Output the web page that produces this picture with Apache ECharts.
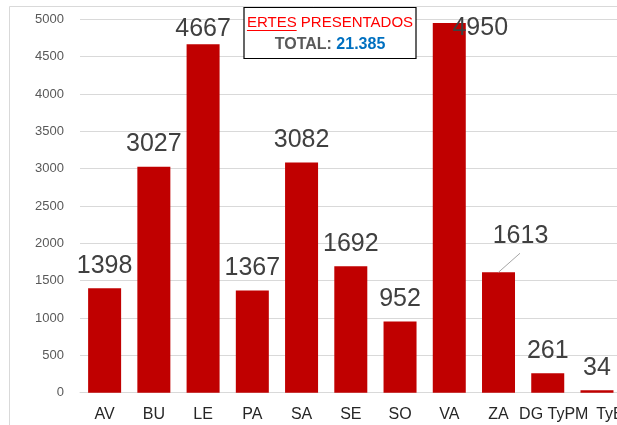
<!DOCTYPE html>
<html>
<head>
<meta charset="utf-8">
<script src="https://cdn.jsdelivr.net/npm/echarts@6/dist/echarts.min.js"></script>
<style>html,body{margin:0;padding:0;background:#fff;}#c{width:617px;height:425px;}</style>
</head>
<body>
<div id="c"></div>
<script>
const categories = ['AV','BU','LE','PA','SA','SE','SO','VA','ZA','DG TyPM','TyE'];
const values = [1398,3027,4667,1367,3082,1692,952,4950,1613,261,34];
const yMin = 0, yMax = 5000, yStep = 500;
const titleFirst = 'ERTES';
const titleRest = ' PRESENTADOS';
const totalLabel = 'TOTAL: ';
const totalValue = '21.385';

const FONT = '"Liberation Sans", Arial, sans-serif';
const chart = echarts.init(document.getElementById('c'), null, {renderer: 'canvas'});

// measure text for title underline
const mctx = document.createElement('canvas').getContext('2d');
mctx.font = '15px "Liberation Sans"';
const wFull = mctx.measureText(titleFirst + titleRest).width;
const wFirst = mctx.measureText(titleFirst).width;
const boxX = 244, boxY = 7.5, boxW = 172, boxH = 51;
const cx = boxX + boxW / 2;
const line1Left = cx - wFull / 2;

// label adjustments (moved labels like in the source)
const labelMoves = {2: {dx: 0, dy: 7}, 7: {dx: 31, dy: 28}, 8: {dx: 22, dy: -14}};
const leaderIndex = 8;

const baseGraphic = [
  {type: 'rect', silent: true, z: 0, shape: {x: 9.5, y: 6.5, width: 700, height: 500},
   style: {fill: null, stroke: '#d9d9d9', lineWidth: 1}},
  {type: 'rect', z: 100, shape: {x: boxX, y: boxY, width: boxW, height: boxH},
   style: {fill: '#fff', stroke: '#000', lineWidth: 1.2}},
  {type: 'text', z: 101, x: cx, y: 23,
   style: {text: titleFirst + titleRest, fill: '#ff0000', font: '15px ' + FONT, textAlign: 'center', textVerticalAlign: 'middle'}},
  {type: 'line', z: 101, shape: {x1: line1Left, y1: 30.5, x2: line1Left + wFirst, y2: 30.5},
   style: {stroke: '#ff0000', lineWidth: 1}},
  {type: 'text', z: 101, x: cx, y: 44.5,
   style: {
     text: '{g|' + totalLabel + '}{b|' + totalValue + '}',
     textAlign: 'center', textVerticalAlign: 'middle',
     rich: {
       g: {fill: '#595959', font: 'bold 16px ' + FONT},
       b: {fill: '#0070c0', font: 'bold 16px ' + FONT}
     }
   }}
];

chart.setOption({
  backgroundColor: '#fff',
  animation: false,
  grid: {left: 80, top: 19.3, width: 541.6, height: 373.4, containLabel: false, outerBoundsMode: 'none'},
  xAxis: {
    type: 'category',
    data: categories,
    axisLine: {show: true, lineStyle: {color: '#d9d9d9', width: 1}},
    axisTick: {show: false},
    axisLabel: {
      interval: 0,
      margin: 14,
      color: '#262626',
      fontSize: 16,
      fontFamily: FONT,
      hideOverlap: false,
      formatter: function (v, i) {
        if (i === 9) return '{s9|' + v + '}';
        if (i === 10) return '{s10|' + v + '}';
        return v;
      },
      rich: {
        s9: {padding: [0, 0, 0, 12], fontSize: 16, fontFamily: FONT, color: '#262626'},
        s10: {padding: [0, 0, 0, 26], fontSize: 16, fontFamily: FONT, color: '#262626'}
      }
    }
  },
  yAxis: {
    type: 'value',
    min: yMin, max: yMax, interval: yStep,
    axisLine: {show: false},
    axisTick: {show: false},
    splitLine: {lineStyle: {color: '#d9d9d9', width: 1}},
    axisLabel: {color: '#595959', fontSize: 13, fontFamily: FONT, margin: 16,
      formatter: function (v) { return String(v); }}
  },
  series: [{
    type: 'bar',
    data: values,
    barWidth: 33,
    itemStyle: {color: '#c00000'},
    label: {
      show: true,
      position: 'top',
      distance: 10,
      color: '#404040',
      fontSize: 25,
      fontFamily: FONT
    },
    labelLayout: function (p) {
      const m = labelMoves[p.dataIndex];
      return m ? {dx: m.dx, dy: m.dy} : {};
    }
  }],
  graphic: baseGraphic
});

// leader line for the moved ZA label, anchored at the bar top via the chart's scales
const anchor = chart.convertToPixel({seriesIndex: 0}, [categories[leaderIndex], values[leaderIndex]]);
chart.setOption({
  graphic: baseGraphic.concat([
    {type: 'line', z: 50, shape: {x1: anchor[0], y1: anchor[1], x2: anchor[0] + 21.5, y2: anchor[1] - 19},
     style: {stroke: '#a6a6a6', lineWidth: 1}}
  ])
});
</script>
</body>
</html>
